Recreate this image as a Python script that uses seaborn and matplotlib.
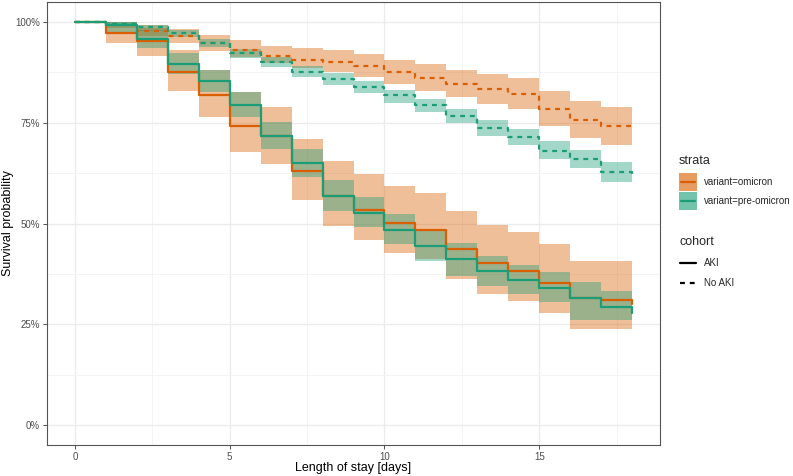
import numpy as np
import pandas as pd
import matplotlib
matplotlib.use("Agg")
import matplotlib.pyplot as plt
import seaborn as sns
from matplotlib.patches import Rectangle
from matplotlib.lines import Line2D
from matplotlib.ticker import FuncFormatter, MultipleLocator

# ---- data (value holds on [t, t+1)) ----
days = list(range(19))

omi_aki = [1.0, 0.972, 0.952, 0.877, 0.820, 0.743, 0.717, 0.630, 0.569, 0.534,
           0.501, 0.484, 0.437, 0.401, 0.382, 0.353, 0.316, 0.311, 0.300]
omi_aki_lo = [1.0, 0.949, 0.917, 0.828, 0.764, 0.678, 0.648, 0.558, 0.493, 0.459,
              0.426, 0.412, 0.362, 0.325, 0.307, 0.278, 0.238, 0.238, 0.238]
omi_aki_hi = [1.0, 0.992, 0.985, 0.930, 0.880, 0.826, 0.789, 0.710, 0.654, 0.623,
              0.592, 0.576, 0.531, 0.497, 0.478, 0.448, 0.408, 0.408, 0.408]

pre_aki = [1.0, 0.992, 0.958, 0.895, 0.853, 0.795, 0.717, 0.649, 0.569, 0.527,
           0.484, 0.443, 0.411, 0.381, 0.359, 0.340, 0.315, 0.293, 0.279]
pre_aki_lo = [1.0, 0.975, 0.935, 0.872, 0.826, 0.764, 0.685, 0.615, 0.532, 0.492,
              0.448, 0.408, 0.370, 0.346, 0.325, 0.304, 0.260, 0.260, 0.260]
pre_aki_hi = [1.0, 1.0, 0.980, 0.923, 0.880, 0.826, 0.751, 0.685, 0.607, 0.565,
              0.523, 0.483, 0.451, 0.420, 0.397, 0.379, 0.355, 0.332, 0.332]

omi_noaki = [1.0, 0.996, 0.979, 0.965, 0.949, 0.932, 0.916, 0.907, 0.902, 0.891,
             0.876, 0.861, 0.847, 0.833, 0.822, 0.785, 0.757, 0.741, 0.741]
omi_noaki_lo = [1.0, 0.985, 0.966, 0.949, 0.928, 0.913, 0.898, 0.885, 0.875, 0.863,
                0.847, 0.830, 0.814, 0.797, 0.785, 0.743, 0.713, 0.695, 0.695]
omi_noaki_hi = [1.0, 1.0, 0.992, 0.982, 0.967, 0.955, 0.940, 0.935, 0.930, 0.920,
                0.907, 0.895, 0.882, 0.870, 0.862, 0.829, 0.804, 0.790, 0.790]

pre_noaki = [1.0, 0.996, 0.987, 0.973, 0.949, 0.924, 0.901, 0.876, 0.858, 0.840,
             0.818, 0.795, 0.766, 0.738, 0.714, 0.681, 0.660, 0.627, 0.615]
pre_noaki_lo = [1.0, 0.990, 0.978, 0.963, 0.938, 0.911, 0.888, 0.863, 0.845, 0.824,
                0.800, 0.776, 0.749, 0.718, 0.694, 0.659, 0.638, 0.604, 0.604]
pre_noaki_hi = [1.0, 1.0, 0.994, 0.980, 0.959, 0.934, 0.913, 0.890, 0.873, 0.855,
                0.832, 0.810, 0.785, 0.757, 0.735, 0.704, 0.683, 0.652, 0.652]

strata_labels = ["variant=omicron", "variant=pre-omicron"]
cohort_labels = ["AKI", "No AKI"]
colors = {"variant=omicron": "#D95F02", "variant=pre-omicron": "#1B9E77"}

series = [
    ("variant=omicron", "AKI", omi_aki, omi_aki_lo, omi_aki_hi),
    ("variant=omicron", "No AKI", omi_noaki, omi_noaki_lo, omi_noaki_hi),
    ("variant=pre-omicron", "AKI", pre_aki, pre_aki_lo, pre_aki_hi),
    ("variant=pre-omicron", "No AKI", pre_noaki, pre_noaki_lo, pre_noaki_hi),
]

rows = []
for strata, cohort, s, lo, hi in series:
    for t, v, l, h in zip(days, s, lo, hi):
        rows.append(dict(time=t, surv=v, lower=l, upper=h, strata=strata, cohort=cohort))
df = pd.DataFrame(rows)

sns.set_theme(style="whitegrid")
plt.rcParams["font.family"] = ["Liberation Sans", "DejaVu Sans"]

W, H = 793, 476
fig = plt.figure(figsize=(W / 100, H / 100), dpi=100)
ax = fig.add_axes([47 / W, 31 / H, 613 / W, 443 / H])

# confidence bands
for strata, cohort, s, lo, hi in series:
    ax.fill_between(days, lo, hi, step="post", color=colors[strata],
                    alpha=0.4, linewidth=0, zorder=2)

DASH = (2.2, 2.2)
sns.lineplot(data=df, x="time", y="surv", hue="strata", style="cohort",
             hue_order=strata_labels, style_order=cohort_labels,
             palette=colors, dashes={"AKI": "", "No AKI": DASH},
             drawstyle="steps-post", estimator=None, errorbar=None,
             linewidth=1.6, legend=False, ax=ax, zorder=3)

ax.set_xlim(-0.9, 18.9)
ax.set_ylim(-0.05, 1.05)
ax.xaxis.set_major_locator(MultipleLocator(5))
ax.xaxis.set_minor_locator(MultipleLocator(2.5))
ax.yaxis.set_major_locator(MultipleLocator(0.25))
ax.yaxis.set_minor_locator(MultipleLocator(0.125))
ax.yaxis.set_major_formatter(FuncFormatter(lambda v, p: f"{int(round(v * 100))}%"))

ax.set_facecolor("white")
ax.grid(True, which="major", color="#EBEBEB", linewidth=0.9)
ax.grid(True, which="minor", color="#F3F3F3", linewidth=0.6)
for sp in ax.spines.values():
    sp.set_color("#555555")
    sp.set_linewidth(0.8)
ax.tick_params(axis="both", which="major", length=3, width=0.6, color="#333333",
               labelsize=7, labelcolor="#4D4D4D", pad=2, bottom=True, left=True)
ax.tick_params(axis="both", which="minor", length=0)

ax.set_xlabel("Length of stay [days]", fontsize=9, color="black")
ax.set_ylabel("Survival probability", fontsize=9, color="black")
ax.xaxis.label.set_va("center")
ax.yaxis.label.set_va("center")
ax.yaxis.label.set_rotation_mode("anchor")
ax.xaxis.set_label_coords(0.5, (445 - 468) / 443)
ax.yaxis.set_label_coords((8 - 47) / 613, 0.5)

# ---- manual ggplot-style legends (pixel positions) ----
def fx(px):
    return px / W

def fy(py):
    return 1 - py / H

fig.text(fx(679), fy(161), "strata", fontsize=9, va="center", ha="left")
key_tops = [173, 192]
for s, top in zip(strata_labels, key_tops):
    fig.add_artist(Rectangle((fx(679), fy(top + 18)), 18 / W, 18 / H,
                             transform=fig.transFigure, facecolor=colors[s],
                             alpha=0.62, edgecolor="none"))
    fig.add_artist(Line2D([fx(681), fx(695)], [fy(top + 9)] * 2,
                          transform=fig.transFigure, color=colors[s], linewidth=1.6))
    fig.text(fx(704), fy(top + 9), s, fontsize=7, va="center", ha="left")

fig.text(fx(679), fy(242), "cohort", fontsize=9, va="center", ha="left")
for lab, yc, ls in zip(cohort_labels, [263, 283], ["solid", "dashed"]):
    ln = Line2D([fx(680), fx(696)], [fy(yc)] * 2, transform=fig.transFigure,
                color="black", linewidth=1.6)
    if ls == "dashed":
        ln.set_dashes(DASH)
    fig.add_artist(ln)
    fig.text(fx(704), fy(yc), lab, fontsize=7, va="center", ha="left")

fig.savefig("out.png", dpi=100)
